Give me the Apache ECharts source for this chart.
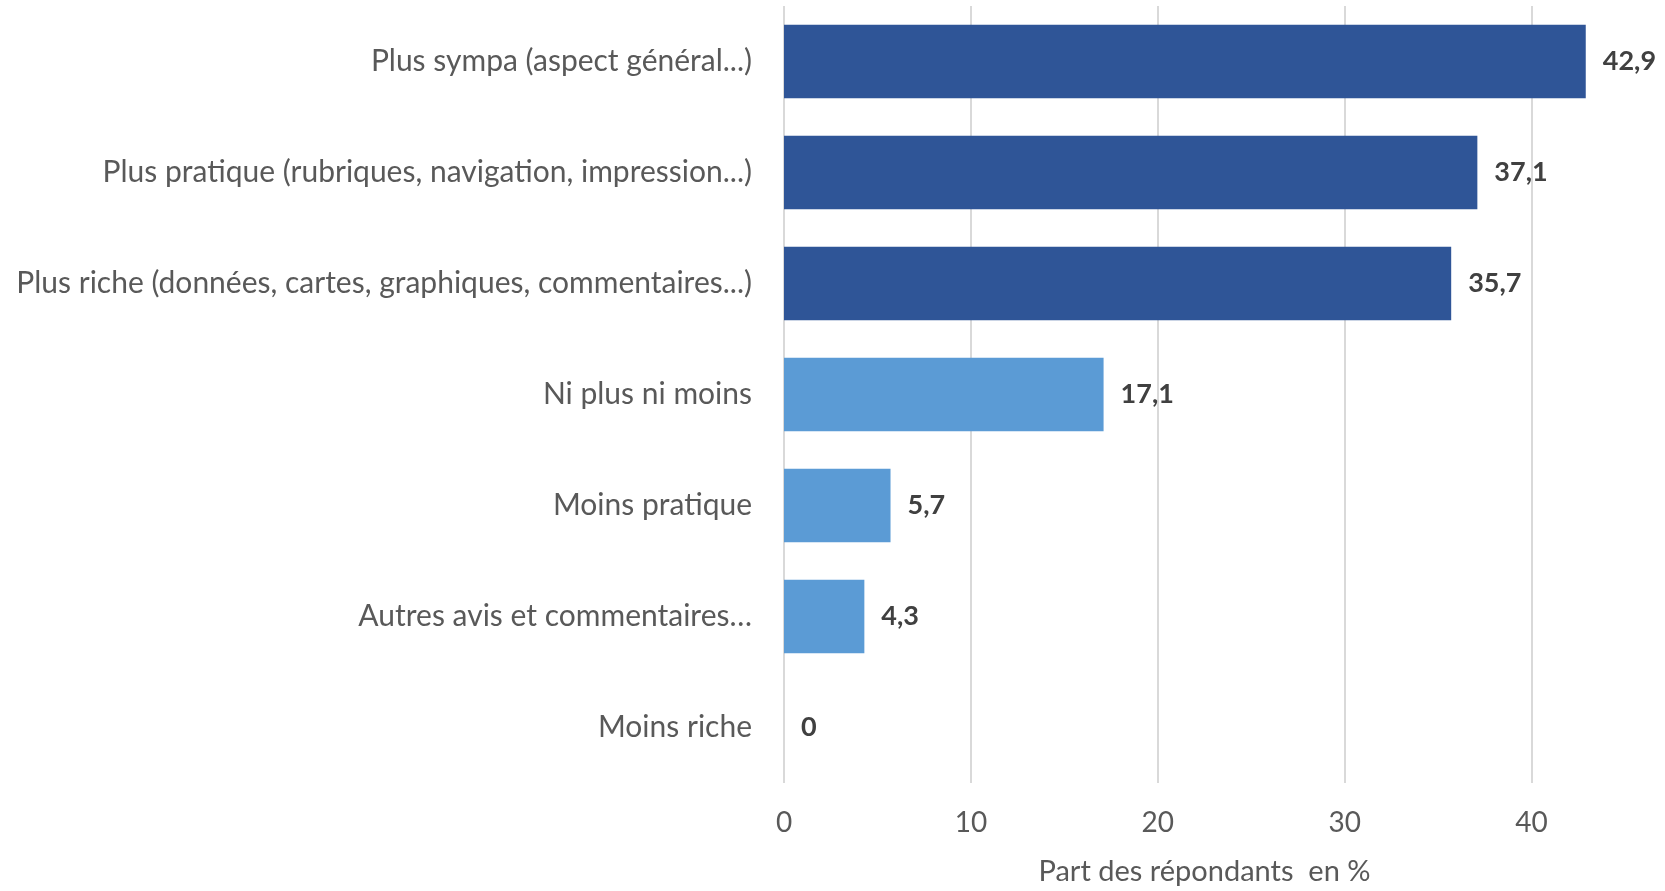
<!DOCTYPE html>
<html>
<head>
    <meta charset="utf-8">
    <title>Part des répondants</title>
    <script src="https://cdn.jsdelivr.net/npm/echarts@6/dist/echarts.min.js"></script>
    <style>
        html, body { margin: 0; padding: 0; background: #fff; }
    </style>
</head>
<body>
    <div id="main" style="width: 1665px;height:891px;"></div>
    <script type="text/javascript">
        var categories = [
            'Plus sympa (aspect général...)',
            'Plus pratique (rubriques, navigation, impression...)',
            'Plus riche (données, cartes, graphiques, commentaires...)',
            'Ni plus ni moins',
            'Moins pratique',
            'Autres avis et commentaires…',
            'Moins riche'
        ];
        var values = [42.9, 37.1, 35.7, 17.1, 5.7, 4.3, 0];
        var tickValues = [0, 10, 20, 30, 40];
        var axisTitle = 'Part des répondants  en %';

        var font = 'Lato, "Open Sans", sans-serif';
        var myChart = echarts.init(document.getElementById('main'));

        var option = {
            animation: false,
            textStyle: { fontFamily: font },
            grid: { left: 784, right: 40, top: 6, bottom: 108, containLabel: false },
            xAxis: {
                type: 'value',
                min: 0,
                max: 45,
                interval: 10,
                name: axisTitle,
                nameLocation: 'middle',
                nameGap: 74,
                nameTextStyle: { fontSize: 29, color: '#595959', fontFamily: font },
                axisLine: { show: false },
                axisTick: { show: false },
                axisLabel: {
                    fontSize: 28, color: '#595959', margin: 26,
                    showMaxLabel: false,
                    formatter: function (v) { return tickValues.indexOf(v) >= 0 ? String(v) : ''; }
                },
                splitLine: { show: true, showMaxLine: false, lineStyle: { color: '#d9d9d9', width: 2 } }
            },
            yAxis: {
                type: 'category',
                inverse: true,
                data: categories,
                axisLine: { show: false },
                axisTick: { show: false },
                axisLabel: { fontSize: 30, color: '#595959', margin: 32 }
            },
            series: [{
                type: 'bar',
                barCategoryGap: '34%',
                data: values.map(function (v, i) {
                    return { value: v, itemStyle: { color: i < 3 ? '#2F5597' : '#5B9BD5' } };
                }),
                label: {
                    show: true,
                    position: 'right',
                    distance: 17,
                    fontSize: 27,
                    fontWeight: 'bold',
                    color: '#404040',
                    formatter: function (p) { return String(p.value).replace('.', ','); }
                }
            }]
        };

        myChart.setOption(option);
    </script>
</body>
</html>
